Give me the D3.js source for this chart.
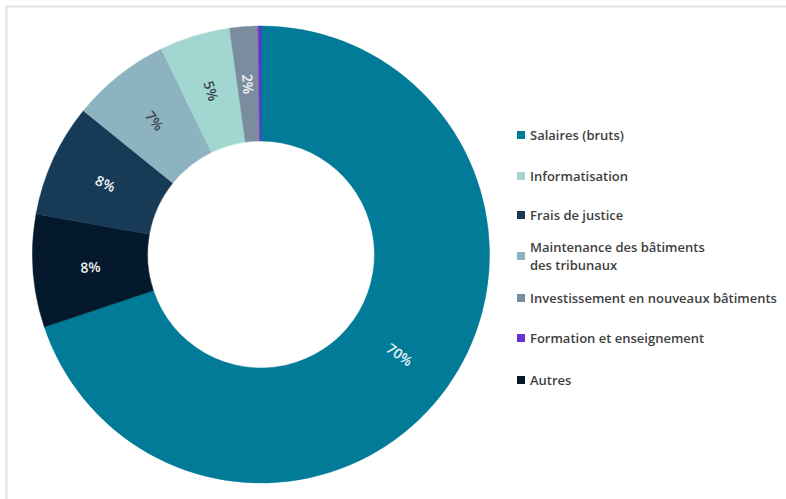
<!DOCTYPE html>
<html>
<head>
<meta charset="utf-8">
<script src="https://cdn.jsdelivr.net/npm/d3@7"></script>
<style>
  html, body { margin: 0; padding: 0; background: #ffffff; }
  svg { display: block; }
</style>
</head>
<body>
<svg id="chart" width="786" height="499"></svg>
<script>
// Budget breakdown, clockwise from 12 o'clock
const sliceNames = [
  "Salaires (bruts)",
  "Autres",
  "Frais de justice",
  "Maintenance des bâtiments des tribunaux",
  "Informatisation",
  "Investissement en nouveaux bâtiments",
  "Formation et enseignement"
];
const sliceValues = [70, 8, 8, 7, 5, 2, 0.2];
const sliceLabels = ["70%", "8%", "8%", "7%", "5%", "2%", ""];
const sliceColors = ["#017b97", "#04192b", "#173a56", "#8db2c0", "#a2d6d1", "#7a8d9e", "#6a2fd2"];
const labelColors = ["#e8f2f5", "#f2f2f2", "#f2f2f2", "#3d4650", "#3d4650", "#f2f2f2", "#ffffff"];

// Legend order
const legendItems = [
  ["Salaires (bruts)"],
  ["Informatisation"],
  ["Frais de justice"],
  ["Maintenance des bâtiments", "des tribunaux"],
  ["Investissement en nouveaux bâtiments"],
  ["Formation et enseignement"],
  ["Autres"]
];
const legendKeys = [
  "Salaires (bruts)",
  "Informatisation",
  "Frais de justice",
  "Maintenance des bâtiments des tribunaux",
  "Investissement en nouveaux bâtiments",
  "Formation et enseignement",
  "Autres"
];

const svg = d3.select("#chart");
const font = "'Open Sans', 'Noto Sans', sans-serif";

// Light frame along the top and left edges
svg.append("line").attr("x1", 6).attr("y1", 6.5).attr("x2", 786).attr("y2", 6.5)
  .attr("stroke", "#e2e2e2").attr("stroke-width", 2);
svg.append("line").attr("x1", 6.5).attr("y1", 6).attr("x2", 6.5).attr("y2", 499)
  .attr("stroke", "#e2e2e2").attr("stroke-width", 2);

const cx = 261, cy = 254.5, rOuter = 228.5, rInner = 113.5;
const color = d3.scaleOrdinal().domain(sliceNames).range(sliceColors);

const pie = d3.pie().sort(null).value(d => d.value);
const data = sliceNames.map((n, i) => ({ name: n, value: sliceValues[i], label: sliceLabels[i], lc: labelColors[i] }));
const arcs = pie(data);
const arc = d3.arc().innerRadius(rInner).outerRadius(rOuter);

const g = svg.append("g").attr("transform", `translate(${cx},${cy})`);
g.selectAll("path.slice").data(arcs).join("path")
  .attr("class", "slice")
  .attr("d", arc)
  .attr("fill", d => color(d.data.name))
  .attr("stroke", d => color(d.data.name))
  .attr("stroke-width", 0.5);

// Labels rotated along the radius, kept upright
g.selectAll("text.val").data(arcs.filter(d => d.data.label)).join("text")
  .attr("class", "val")
  .attr("transform", d => {
    const [x, y] = arc.centroid(d);
    const mid = (d.startAngle + d.endAngle) / 2 * 180 / Math.PI;
    let rot = mid - 90;
    if (rot > 90) rot -= 180;
    return `translate(${x},${y}) rotate(${rot})`;
  })
  .attr("text-anchor", "middle")
  .attr("dominant-baseline", "central")
  .attr("font-family", font)
  .attr("font-weight", 600)
  .attr("font-size", 14)
  .attr("fill", d => d.data.lc)
  .text(d => d.data.label);

// Legend
const legendY = [135, 176, 215, 256, 298, 338, 380];
const lg = svg.append("g");
legendItems.forEach((lines, i) => {
  const y = legendY[i];
  lg.append("rect")
    .attr("x", 517).attr("y", y - 4).attr("width", 8).attr("height", 8)
    .attr("fill", color(legendKeys[i] === "Informatisation" ? "Informatisation" : legendKeys[i]));
  const t = lg.append("text")
    .attr("x", 530)
    .attr("font-family", font)
    .attr("font-weight", 600)
    .attr("font-size", 13)
    .attr("fill", "#3f3f3f");
  if (lines.length === 1) {
    t.append("tspan").attr("x", 530).attr("y", y).attr("dominant-baseline", "central").text(lines[0]);
  } else {
    t.append("tspan").attr("x", 530).attr("y", y - 9).attr("dominant-baseline", "central").text(lines[0]);
    t.append("tspan").attr("x", 530).attr("y", y + 9).attr("dominant-baseline", "central").text(lines[1]);
  }
});
</script>
</body>
</html>
